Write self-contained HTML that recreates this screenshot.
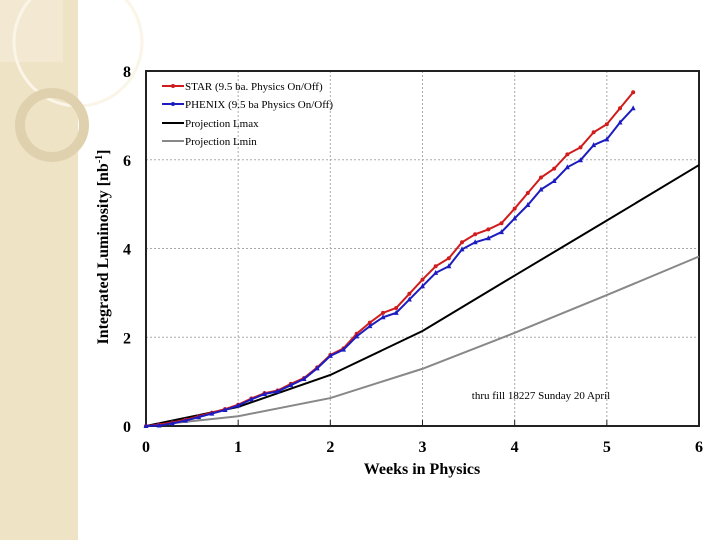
<!DOCTYPE html>
<html><head><meta charset="utf-8"><style>
body{margin:0;width:720px;height:540px;background:#fff;overflow:hidden;position:relative;font-family:"Liberation Serif",serif}
svg{position:absolute;left:0;top:0}
</style></head><body>
<svg width="720" height="540">
<g>
<rect x="0" y="0" width="78" height="540" fill="#efe3c6"/>
<rect x="0" y="0" width="63" height="62" fill="#f3e9d3"/>
<circle cx="78" cy="42" r="64" fill="none" stroke="#fbf5e8" stroke-width="3"/>
<circle cx="52" cy="125" r="32" fill="none" stroke="#e0d1ae" stroke-width="10"/>
</g>
<g id="grid"></g>
<rect x="146" y="71" width="553" height="355" fill="none" stroke="#222" stroke-width="2"/>
<g id="ticks"></g>
<g id="series"></g>
<text x="422" y="474" text-anchor="middle" font-size="16" font-weight="bold">Weeks in Physics</text>
<text transform="translate(108,247) rotate(-90)" text-anchor="middle" font-size="16" font-weight="bold">Integrated Luminosity [nb<tspan font-size="10" dy="-6">-1</tspan><tspan dy="6">]</tspan></text>
<text x="541" y="399" text-anchor="middle" font-size="11">thru fill 18227 Sunday 20 April</text>
<g font-size="11">
<g><line x1="162" y1="86" x2="184" y2="86" stroke="#d01c1c" stroke-width="2"/><circle cx="173" cy="86" r="2" fill="#d01c1c"/><text x="185" y="90">STAR (9.5 ba. Physics On/Off)</text></g>
<g><line x1="162" y1="104" x2="184" y2="104" stroke="#1c1cc0" stroke-width="2"/><circle cx="173" cy="104" r="2" fill="#1c1cc0"/><text x="185" y="108">PHENIX (9.5 ba Physics On/Off)</text></g>
<g><line x1="162" y1="123" x2="184" y2="123" stroke="#000" stroke-width="2"/><text x="185" y="127">Projection Lmax</text></g>
<g><line x1="162" y1="141" x2="184" y2="141" stroke="#888" stroke-width="2"/><text x="185" y="145">Projection Lmin</text></g>
</g>
</svg>
<script>
const xTicks=[0,1,2,3,4,5,6];
const yTicks=[0,2,4,6,8];
const starX=[0,1,2,3,4,5,6,7,8,9,10,11,12,13,14,15,16,17,18,19,20,21,22,23,24,25,26,27,28,29,30,31,32,33,34,35,36,37];
const starY=[0,0.03,0.08,0.14,0.22,0.3,0.38,0.48,0.62,0.74,0.8,0.95,1.08,1.32,1.6,1.75,2.08,2.33,2.55,2.66,2.98,3.3,3.6,3.78,4.14,4.32,4.43,4.57,4.9,5.25,5.6,5.8,6.12,6.28,6.62,6.8,7.16,7.52];
const phenixY=[0,0.01,0.06,0.12,0.2,0.28,0.36,0.46,0.6,0.72,0.78,0.92,1.06,1.3,1.58,1.72,2.02,2.25,2.45,2.55,2.85,3.15,3.45,3.6,3.98,4.14,4.23,4.37,4.68,4.98,5.33,5.52,5.83,5.99,6.33,6.46,6.84,7.16];
const projX=[0,1,2,3,4,5,6];
const lmaxY=[0,0.43,1.15,2.14,3.39,4.63,5.88];
const lminY=[0,0.22,0.63,1.29,2.1,2.95,3.82];
const NS="http://www.w3.org/2000/svg";
const sx=w=>146+w*(553/6), sy=v=>426-v*(355/8);
const grid=document.getElementById('grid'),ticks=document.getElementById('ticks'),ser=document.getElementById('series');
function mk(tag,attrs,parent){const e=document.createElementNS(NS,tag);for(const k in attrs)e.setAttribute(k,attrs[k]);parent.appendChild(e);return e;}
xTicks.forEach(t=>{
 if(t>0&&t<6){const g=mk('line',{x1:sx(t),x2:sx(t),y1:71,y2:426,stroke:'#aaa','stroke-dasharray':'2,2'},grid);
 
 }
 const tl=mk('line',{x1:sx(t),x2:sx(t),y1:426,y2:420,stroke:'#222'},ticks);
 
 
 const tx=mk('text',{x:sx(t),y:452,'text-anchor':'middle','font-size':16,'font-weight':'bold'},ticks);tx.textContent=t;
 
 
});
yTicks.forEach(t=>{
 if(t>0&&t<8){const g=mk('line',{x1:146,x2:699,y1:sy(t),y2:sy(t),stroke:'#aaa','stroke-dasharray':'2,2'},grid);
 
 }
 const tx=mk('text',{x:131,y:sy(t)+6,'text-anchor':'end','font-size':16,'font-weight':'bold'},ticks);tx.textContent=t;
 
 
});
function line(xs,ys,color,name,marker){
 const p=mk('polyline',{points:xs.map((x,i)=>sx(x)+','+sy(ys[i])).join(' '),fill:'none',stroke:color,'stroke-width':2},ser);
 
 
 if(marker)xs.forEach((x,i)=>{
  let m;
  if(marker==='c')m=mk('circle',{cx:sx(x),cy:sy(ys[i]),r:2,fill:color},ser);
  else{const X=sx(x),Y=sy(ys[i]);m=mk('polygon',{points:`${X},${Y-3} ${X-2.5},${Y+2} ${X+2.5},${Y+2}`,fill:color},ser);}
  
  
 });
}
line(projX,lminY,'#888','lmin-line');
line(projX,lmaxY,'#000','lmax-line');
line(starX.map(d=>d/7),starY,'#d01c1c','star-line','c');
line(starX.map(d=>d/7),phenixY,'#1c1cc0','phenix-line','t');
</script>
</body></html>
